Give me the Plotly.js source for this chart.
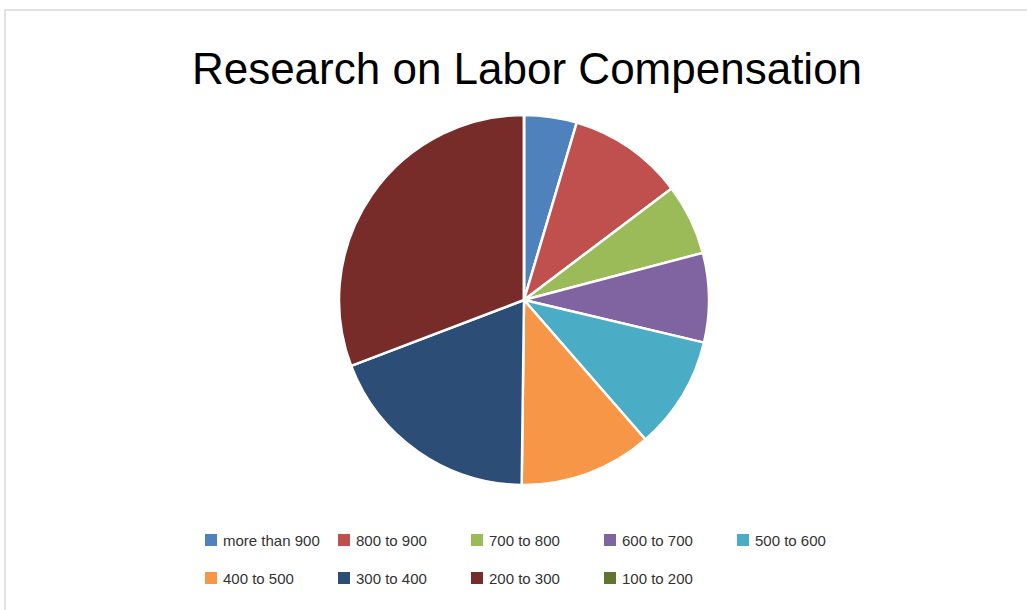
<!DOCTYPE html>
<html>
<head>
<meta charset="utf-8">
<script src="https://cdn.plot.ly/plotly-3.0.1.min.js"></script>
<style>html,body{margin:0;padding:0;background:#fff;}#chart{width:1027px;height:610px;}</style>
</head>
<body>
<div id="chart"></div>
<script>
const labels = ["more than 900", "800 to 900", "700 to 800", "600 to 700", "500 to 600", "400 to 500", "300 to 400", "200 to 300", "100 to 200"];
const values = [4.6, 10.1, 6.2, 7.8, 9.9, 11.6, 19.0, 30.8, 0];
const colors = ["#4F81BD", "#C0504D", "#9BBB59", "#8064A2", "#4BACC6", "#F79646", "#2C4D75", "#772C2A", "#5F7530"];
const chartTitle = "Research on Labor Compensation";

const W = 1027, H = 610;
const px = x => x / W;
const py = y => 1 - y / H;

const shapes = [{
  type: 'rect', xref: 'paper', yref: 'paper',
  x0: px(5), x1: 1.02, y0: -0.02, y1: py(10),
  line: {color: '#d9d9d9', width: 1.5}, fillcolor: 'rgba(0,0,0,0)', layer: 'below'
}];
const annotations = [];
labels.forEach((lab, i) => {
  const col = i % 5, row = Math.floor(i / 5);
  const x0 = 205 + col * 133;
  const yc = 540 + row * 38;
  shapes.push({type: 'rect', xref: 'paper', yref: 'paper',
    x0: px(x0), x1: px(x0 + 12), y0: py(yc + 6), y1: py(yc - 6),
    fillcolor: colors[i], line: {width: 0}});
  annotations.push({xref: 'paper', yref: 'paper', x: px(x0 + 16), y: py(yc),
    xanchor: 'left', yanchor: 'middle', showarrow: false, text: lab,
    font: {family: 'Liberation Sans, Arial, sans-serif', size: 15, color: '#333'}});
});

const data = [{
  type: 'pie', labels: labels, values: values,
  marker: {colors: colors, line: {color: '#ffffff', width: 2.5}},
  sort: false, direction: 'clockwise', rotation: 0,
  textinfo: 'none', hoverinfo: 'label+value+percent',
  domain: {x: [px(339), px(709)], y: [py(485), py(115)]},
  showlegend: false
}];

const layout = {
  width: W, height: H,
  margin: {l: 0, r: 0, t: 0, b: 0},
  paper_bgcolor: '#ffffff',
  title: {text: chartTitle, x: px(527), xanchor: 'center', y: py(84), yanchor: 'bottom', yref: 'paper',
    font: {family: 'Liberation Sans, Arial, sans-serif', size: 44, color: '#000'}},
  showlegend: false,
  shapes: shapes,
  annotations: annotations
};

Plotly.newPlot('chart', data, layout, {displayModeBar: false, staticPlot: true});
</script>
</body>
</html>
